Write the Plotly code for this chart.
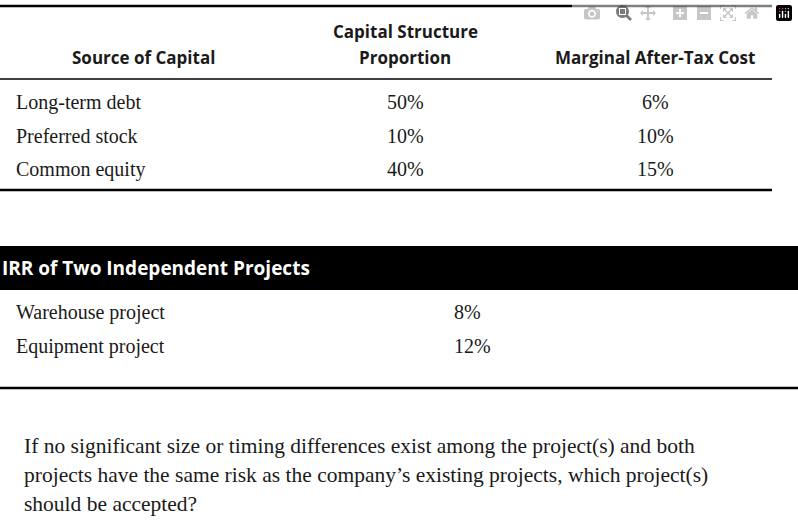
# Import packages
import plotly.graph_objects as go

# Capital data
capital = [
    ['Long-term debt', '50%', '6%'],
    ['Preferred stock', '10%', '10%'],
    ['Common equity', '40%', '15%'],
]
# IRR data
projects = [['Warehouse project', '8%'], ['Equipment project', '12%']]
question = ['If no significant size or timing differences exist among the project(s) and both',
            'projects have the same risk as the company\u2019s existing projects, which project(s)',
            'should be accepted?']

sans = 'Open Sans'
serif = 'Liberation Serif'
ink = '#1a1a1a'

fig = go.Figure()
# header text
fig.add_annotation(x=143, y=57, text='<b>Source of Capital</b>', font=dict(family=sans, size=17, color=ink))
fig.add_annotation(x=405, y=31, text='<b>Capital Structure</b>', font=dict(family=sans, size=17, color=ink))
fig.add_annotation(x=405, y=57, text='<b>Proportion</b>', font=dict(family=sans, size=17, color=ink))
fig.add_annotation(x=655, y=57, text='<b>Marginal After-Tax Cost</b>', font=dict(family=sans, size=17, color=ink))
# capital rows
for i, row in enumerate(capital):
    y = 102 + i * 33.5
    fig.add_annotation(x=14, y=y, text=row[0], xanchor='left', font=dict(family=serif, size=20, color=ink))
    fig.add_annotation(x=405, y=y, text=row[1], font=dict(family=serif, size=20, color=ink))
    fig.add_annotation(x=655, y=y, text=row[2], font=dict(family=serif, size=20, color=ink))
# lines of first table
fig.add_shape(type='line', x0=0, x1=772, y0=6, y1=6, line=dict(color='black', width=2.5))
fig.add_shape(type='line', x0=0, x1=772, y0=79, y1=79, line=dict(color='black', width=1.5))
fig.add_shape(type='line', x0=0, x1=772, y0=190, y1=190, line=dict(color='black', width=2.5))
# black banner
fig.add_shape(type='rect', x0=0, x1=798, y0=246, y1=290, fillcolor='black', line=dict(width=0), layer='below')
fig.add_annotation(x=0, y=268, text='<b>IRR of Two Independent Projects</b>', xanchor='left',
                   font=dict(family=sans, size=19, color='white'))
# project rows
for i, row in enumerate(projects):
    y = 312 + i * 34
    fig.add_annotation(x=14, y=y, text=row[0], xanchor='left', font=dict(family=serif, size=20, color=ink))
    fig.add_annotation(x=452, y=y, text=row[1], xanchor='left', font=dict(family=serif, size=20, color=ink))
fig.add_shape(type='line', x0=0, x1=798, y0=388, y1=388, line=dict(color='black', width=2.5))
# question
for i, line in enumerate(question):
    fig.add_annotation(x=22, y=446 + i * 29, text=line, xanchor='left', font=dict(family=serif, size=21.5, color=ink))

fig.update_annotations(showarrow=False, yanchor='middle')
fig.update_xaxes(range=[0, 798], visible=False)
fig.update_yaxes(range=[521, 0], visible=False)
fig.update_layout(width=798, height=521, margin=dict(l=0, r=0, t=0, b=0),
                  plot_bgcolor='white', paper_bgcolor='white')

# write fig to html file
fig.write_html('out.html')
html = open('out.html').read().replace('<head>', '<head><style>body{margin:0}</style>', 1)
open('out.html', 'w').write(html)
